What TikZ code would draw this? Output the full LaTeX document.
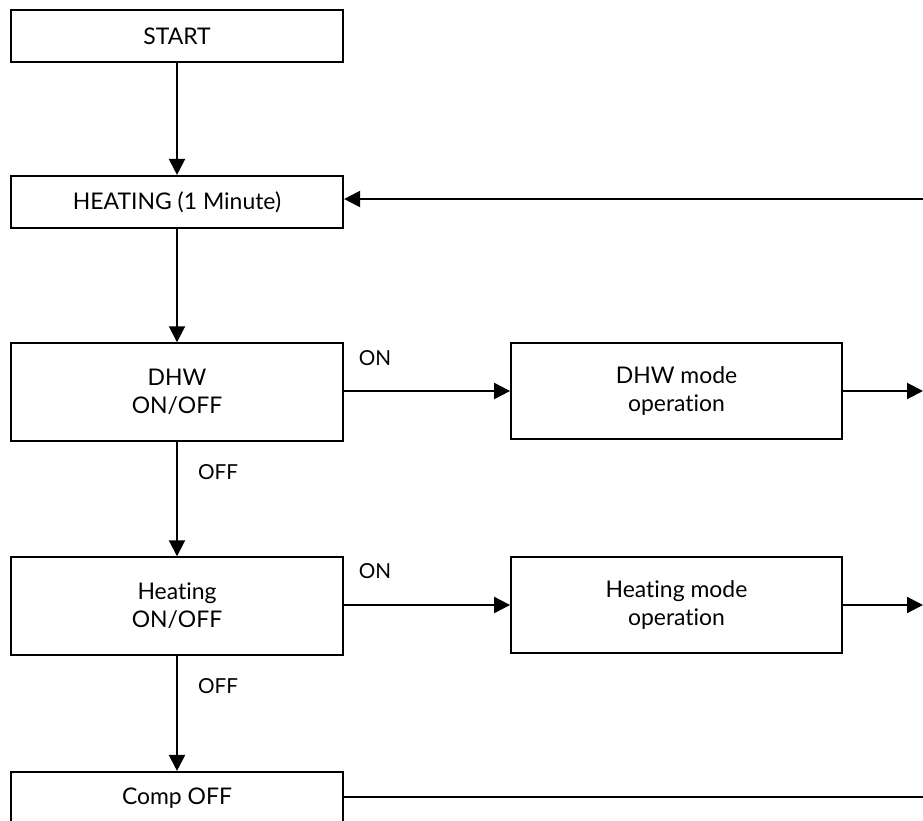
\documentclass[tikz,border=0pt]{standalone}
\usepackage{fontspec}
\setmainfont{Lato}[Ligatures={NoCommon}]
\usetikzlibrary{arrows.meta}
\begin{document}
\begin{tikzpicture}[x=0.75pt,y=-0.75pt,
  box/.style={draw,line width=1.6pt,fill=white,align=center,inner sep=0pt,
    font=\fontsize{17.2}{21}\selectfont},
  mainbox/.style={box,minimum width=249pt,minimum height=39pt},
  tallbox/.style={box,minimum width=249pt,minimum height=73pt},
  modebox/.style={box,minimum width=248pt,minimum height=72.5pt},
  arr/.style={line width=1.5pt,-{Triangle[length=12pt,width=12pt]}},
  link/.style={line width=1.5pt},
  lbl/.style={font=\fontsize{15.5}{18}\selectfont,inner sep=0pt}]
\useasboundingbox (0,0) rectangle (923,820);
\clip (0,0) rectangle (923,820);
% boxes of the main column
\node[mainbox] (start) at (177,36) {START};
\node[mainbox] (heat)  at (177,202) {HEATING (1 Minute)};
\node[tallbox] (dhw)   at (177,392) {DHW\\ON/OFF};
\node[tallbox] (htg)   at (177,606) {Heating\\ON/OFF};
\node[mainbox] (comp)  at (177,798) {Comp OFF};
% operating modes
\node[modebox] (dhwm) at (676.5,391) {DHW mode\\operation};
\node[modebox] (htgm) at (676.5,605) {Heating mode\\operation};
% return path from the right edge
\coordinate (back)  at (923,199);
\coordinate (dhwo)  at (923,391);
\coordinate (htgo)  at (923,605);
\coordinate (compo) at (923,797);
% vertical flow
\draw[arr] (start) -- (heat);
\draw[arr] (heat) -- (dhw);
\draw[arr] (dhw) -- (htg);
\draw[arr] (htg) -- (comp);
% branches to the modes
\draw[arr] (dhw.east |- dhwm.west) -- (dhwm.west);
\draw[arr] (htg.east |- htgm.west) -- (htgm.west);
\draw[arr] (dhwm.east) -- (dhwo);
\draw[arr] (htgm.east) -- (htgo);
\draw[link] (comp.east |- compo) -- (compo);
\draw[arr] (back) -- (back -| heat.east);
% branch labels
\node[lbl] (on1)  at (375,358) {ON};
\node[lbl] (on2)  at (375,571) {ON};
\node[lbl] (off1) at (218,472) {OFF};
\node[lbl] (off2) at (218,686) {OFF};
\end{tikzpicture}
\end{document}
